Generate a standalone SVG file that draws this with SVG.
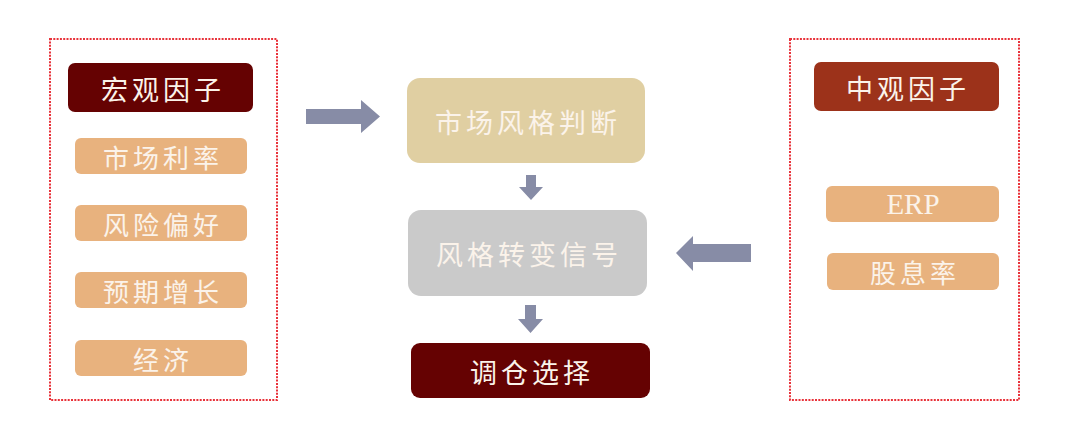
<svg xmlns="http://www.w3.org/2000/svg" width="1080" height="442" viewBox="0 0 1080 442">
<style>
.frame{fill:none;stroke:#e8323a;stroke-width:2;stroke-dasharray:2 1.3}
.t{font-family:"Noto Sans CJK SC","Noto Sans",sans-serif;fill:#fbf3ea;text-anchor:middle;dominant-baseline:central}
.big{font-size:27px;letter-spacing:4px}
.mid{font-size:26px;letter-spacing:4px}
.item{fill:#e8b27e}
.arr{fill:#878ca6}
</style>
<rect width="1080" height="442" fill="#ffffff"/>
<g id="macro">
<rect class="frame" x="50" y="39" width="227" height="361"/>
<rect x="68" y="63" width="185" height="49" rx="7" fill="#650202"/>
<text class="t big" x="163" y="88">宏观因子</text>
</g>
<g id="m1"><rect class="item" x="75" y="138" width="172" height="36" rx="6"/><text class="t mid" x="163" y="156">市场利率</text></g>
<g id="m2"><rect class="item" x="75" y="205" width="172" height="36" rx="6"/><text class="t mid" x="163" y="223">风险偏好</text></g>
<g id="m3"><rect class="item" x="75" y="272" width="172" height="36" rx="6"/><text class="t mid" x="163" y="290">预期增长</text></g>
<g id="m4"><rect class="item" x="75" y="340" width="172" height="36" rx="6"/><text class="t mid" x="163" y="358">经济</text></g>
<g id="meso">
<rect class="frame" x="790" y="39" width="229" height="361"/>
<rect x="814" y="62" width="185" height="49" rx="7" fill="#9c321a"/>
<text class="t big" x="908" y="87">中观因子</text>
</g>
<g id="erp"><rect class="item" x="826" y="186" width="173" height="36" rx="6"/><text class="t" x="913" y="204" style="font-family:'Liberation Serif',serif;font-size:29px">ERP</text></g>
<g id="div"><rect class="item" x="827" y="253" width="172" height="37" rx="6"/><text class="t mid" x="915" y="271">股息率</text></g>
<g id="judge"><rect x="407" y="78" width="238" height="85" rx="13" fill="#e0cfa2"/><text class="t big" x="528" y="121">市场风格判断</text></g>
<g id="signal"><rect x="408" y="210" width="239" height="86" rx="13" fill="#cacaca"/><text class="t big" x="529" y="253">风格转变信号</text></g>
<g id="choose"><rect x="411" y="343" width="239" height="55" rx="9" fill="#650202"/><text class="t big" x="532" y="371">调仓选择</text></g>
<g id="connectors">
<polygon class="arr" points="306,109 361,109 361,100 380,116.5 361,133 361,124 306,124"/>
<polygon class="arr" points="751,244 693,244 693,236 676,253 693,271 693,262 751,262"/>
<polygon class="arr" points="526,175 536,175 536,187 543,187 531,200 519,187 526,187"/>
<polygon class="arr" points="525,305 536,305 536,319 543,319 530.5,333 518,319 525,319"/>
</g>
</svg>
